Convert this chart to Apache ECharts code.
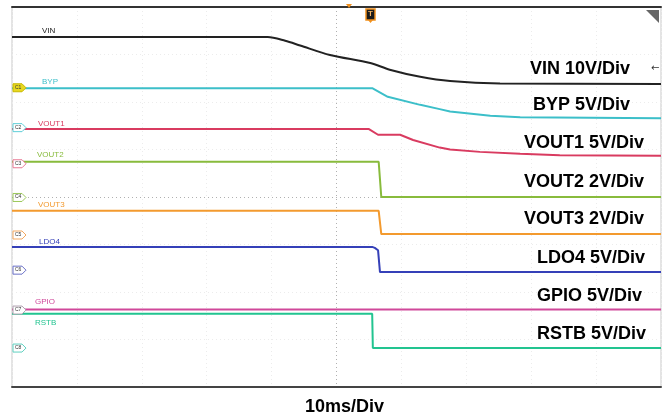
<!DOCTYPE html>
<html><head><meta charset="utf-8">
<script src="https://cdn.jsdelivr.net/npm/echarts@6/dist/echarts.min.js"></script>
<style>html,body{margin:0;padding:0;background:#fff}#c{width:668px;height:418px}</style>
</head><body><div id="c"></div>
<script>
// time in ms (10 ms/div), level in divisions (0 = bottom of screen, 8 = top)
const VIN   = [[0,7.37],[39.4,7.37],[42.1,7.29],[44.4,7.19],[49.0,6.99],[55.2,6.82],[58.2,6.68],[62.9,6.53],[67.5,6.44],[75.2,6.39],[100,6.38]];
const BYP   = [[0,6.29],[55.5,6.29],[57.9,6.11],[62.9,5.94],[65.9,5.85],[67.5,5.80],[73.7,5.71],[78.3,5.68],[100,5.66]];
const VOUT1 = [[0,5.43],[55.0,5.43],[56.4,5.31],[59.8,5.31],[61.8,5.20],[65.9,5.04],[67.5,5.00],[72.1,4.95],[78.3,4.91],[84.4,4.88],[100,4.87]];
const VOUT2 = [[0,4.74],[56.5,4.74],[56.9,4.00],[100,4.00]];
const VOUT3 = [[0,3.71],[56.5,3.71],[56.9,3.22],[100,3.22]];
const LDO4  = [[0,2.95],[55.5,2.95],[55.9,2.93],[56.4,2.88],[56.7,2.42],[100,2.42]];
const GPIO  = [[0,1.63],[100,1.63]];
const RSTB  = [[0,1.54],[55.5,1.54],[55.6,0.82],[100,0.82]];

const names  = ['VIN','BYP','VOUT1','VOUT2','VOUT3','LDO4','GPIO','RSTB'];
const scales = ['VIN 10V/Div','BYP 5V/Div','VOUT1 5V/Div','VOUT2 2V/Div','VOUT3 2V/Div','LDO4 5V/Div','GPIO 5V/Div','RSTB 5V/Div'];
const colors = ['#222222','#3cbfc9','#d93b60','#88bb3c','#f39a2e','#3540b8','#d0489a','#22c490'];
const datasets = [VIN,BYP,VOUT1,VOUT2,VOUT3,LDO4,GPIO,RSTB];
const smoothFlags = [0.3,0,0,0,0,0,0,0];
// channel offset markers (division level)
const chLevels = [6.3,5.46,4.7,3.99,3.2,2.46,1.62,0.82];
const chNames = ['C1','C2','C3','C4','C5','C6','C7','C8'];
const chColors = ['#e8d820','#5fcfd8','#e87a95','#9cc85a','#f3a860','#6a70c8','#b0a0b0','#5fd0c0'];
const timeLabel = '10ms/Div';

const xSplit = Array.from({length:11},(_,i)=> i===5 ? '#b0b0b0' : '#ececec');
const ySplit = Array.from({length:9},(_,i)=> i===4 ? '#b0b0b0' : '#ececec');

const chart = echarts.init(document.getElementById('c'), null, {renderer:'canvas'});

const series = datasets.map((d,i)=>({
  name: names[i], type:'line', data:d, showSymbol:false, symbol:'none',
  smooth: smoothFlags[i],
  lineStyle:{color:colors[i], width:2}, itemStyle:{color:colors[i]},
  animation:false, z:3
}));

// right-hand scale labels
const scaleX = [530,533,524,524,524,537,537,537];
const scaleY = [70,106,144,183,220,259,297.5,335.5];
const nameX = [42,42,38,37,38,39,35,35];
const nameY = [31,82,124,155,205,242,302,323];

const graphics = [];
scales.forEach((s,i)=>{
  graphics.push({type:'text', left:scaleX[i], top:scaleY[i]-10, z:10,
    style:{text:s, font:'bold 18px "Liberation Sans", Arial, sans-serif', fill:'#000'}});
  graphics.push({type:'text', left:nameX[i], top:nameY[i]-4, z:10,
    style:{text:names[i], font:'8px "Liberation Sans", Arial, sans-serif', fill: i===0?'#222':colors[i]}});
});
graphics.push({type:'text', left:305, top:398, z:10,
  style:{text:timeLabel, font:'bold 18px "Liberation Sans", Arial, sans-serif', fill:'#000'}});
// VIN arrow
graphics.push({type:'text', left:651, top:63, z:10, style:{text:'←', font:'10px "DejaVu Sans", sans-serif', fill:'#333'}});
// top-right corner triangle
graphics.push({type:'polygon', z:10, shape:{points:[[646,10],[659,10],[659,23]]}, style:{fill:'#666'}});
// trigger marker
graphics.push({type:'polygon', z:10, shape:{points:[[346,4],[352,4],[349,8]]}, style:{fill:'#f0901e'}});
graphics.push({type:'rect', z:10, shape:{x:366,y:9,width:9,height:11}, style:{fill:'#1a1a1a', stroke:'#f0901e', lineWidth:1.5}});
graphics.push({type:'text', z:11, left:368, top:10, style:{text:'T', font:'bold 8px "Liberation Sans", Arial, sans-serif', fill:'#f0b060'}});
graphics.push({type:'polygon', z:10, shape:{points:[[368,20],[373,20],[370.5,23]]}, style:{fill:'#f0901e'}});

const option = {
  animation:false,
  backgroundColor:'#fff',
  grid:{left:12, right:7, top:7, bottom:31, show:true, borderColor:'#c8c8c8', borderWidth:1},
  xAxis:[{type:'value', min:0, max:100, interval:10,
    axisLine:{show:true, onZero:false, lineStyle:{color:'#444', width:2}},
    axisTick:{show:false}, axisLabel:{show:false},
    splitLine:{show:true, lineStyle:{color:xSplit, type:[1,3], width:1}}},
    {type:'value', min:0, max:100, position:'top',
    axisLine:{show:true, onZero:false, lineStyle:{color:'#333', width:2}},
    axisTick:{show:false}, axisLabel:{show:false}, splitLine:{show:false}}],
  yAxis:{type:'value', min:0, max:8, interval:1,
    axisLine:{show:false}, axisTick:{show:false}, axisLabel:{show:false},
    splitLine:{show:true, lineStyle:{color:ySplit, type:[1,3], width:1}}},
  series: series,
  graphic: graphics
};
chart.setOption(option);

// channel markers placed via data coordinates
const marks = [];
chLevels.forEach((lv,i)=>{
  const p = chart.convertToPixel({gridIndex:0}, [0, lv]);
  const x = p[0]+1, y = p[1];
  marks.push({type:'polygon', z:12, shape:{points:[[x,y-4],[x+9,y-4],[x+13,y],[x+9,y+4],[x,y+4]]},
    style:{fill: i===0 ? chColors[i] : '#fff', stroke: i===0 ? '#c8b800' : chColors[i], lineWidth:1}});
  marks.push({type:'text', z:13, left:x+2, top:y-3,
    style:{text:chNames[i], font:'5px "Liberation Sans", Arial, sans-serif', fill:'#333'}});
});
chart.setOption({graphic: graphics.concat(marks)});
</script></body></html>
